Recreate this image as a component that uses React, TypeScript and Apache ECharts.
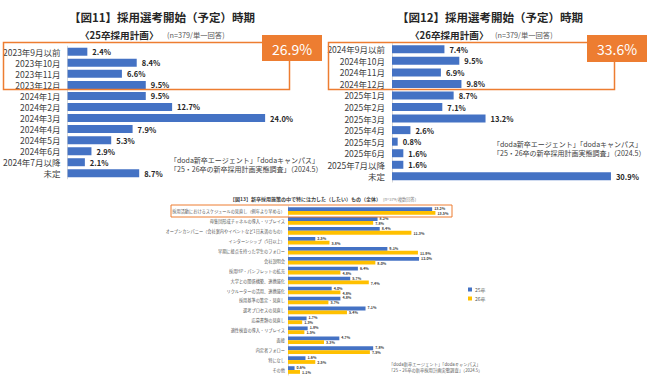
import React, { useEffect, useRef } from "react";
import * as echarts from "echarts";

const cats25 = ["2023年9月以前", "2023年10月", "2023年11月", "2023年12月", "2024年1月", "2024年2月", "2024年3月", "2024年4月", "2024年5月", "2024年6月", "2024年7月以降", "未定"];
const vals25 = [2.4, 8.4, 6.6, 9.5, 9.5, 12.7, 24.0, 7.9, 5.3, 2.9, 2.1, 8.7];
const cats26 = ["2024年9月以前", "2024年10月", "2024年11月", "2024年12月", "2025年1月", "2025年2月", "2025年3月", "2025年4月", "2025年5月", "2025年6月", "2025年7月以降", "未定"];
const vals26 = [7.4, 9.5, 6.9, 9.8, 8.7, 7.1, 13.2, 2.6, 0.8, 1.6, 1.6, 30.9];

const measures = [
  "採用活動におけるスケジュールの見直し（例年より早める）",
  "母集団形成チャネルの導入・リプレイス",
  "オープンカンパニー（会社案内やイベントなど1日未満のもの）",
  "インターンシップ（5日以上）",
  "早期に接点を持った学生のフォロー",
  "会社説明会",
  "採用HP・パンフレットの拡充",
  "大学との関係構築、連携強化",
  "リクルーターの活用、連携強化",
  "採用基準の策定・見直し",
  "選考プロセスの見直し",
  "応募書類の見直し",
  "適性検査の導入・リプレイス",
  "面接",
  "内定者フォロー",
  "特になし",
  "その他",
];
const measures25 = [13.2, 8.2, 8.4, 2.5, 9.1, 12.0, 6.4, 5.7, 4.0, 4.8, 7.1, 1.7, 1.8, 4.7, 7.8, 1.6, 0.6];
const measures26 = [13.5, 7.8, 11.3, 3.8, 11.9, 8.0, 4.8, 7.4, 4.8, 3.7, 5.4, 1.3, 1.5, 3.3, 7.5, 2.5, 1.1];

const sum25 = "26.9%";
const sum26 = "33.6%";

const FONT = "'Noto Sans CJK JP', 'Noto Sans', sans-serif";
const BLUE = "#4472C4";
const YELLOW = "#FFC000";
const ORANGE = "#ED7D31";

const pct = (p: any) => Number(p.value).toFixed(1) + "%";

export default function App() {
  const ref = useRef<HTMLDivElement>(null);
  useEffect(() => {
    if (!ref.current) return;
    const chart = echarts.init(ref.current, null, { renderer: "svg" });
    const txt = (text: string, x: number, y: number, size: number, opts: any = {}) => ({
      type: "text",
      x,
      y,
      style: {
        text,
        fontSize: size,
        fontFamily: FONT,
        fontWeight: opts.bold ? "bold" : "normal",
        fill: opts.color || "#262626",
        textAlign: opts.align || "left",
        textVerticalAlign: "middle",
      },
      z: 10,
    });
    const catAxisBase = (gridIndex: number, data: string[], size: number, margin: number, color: string) => ({
      type: "category",
      gridIndex,
      data,
      inverse: true,
      axisTick: { show: false },
      axisLine: { show: true, lineStyle: { color: "#d9d9d9", width: 1 } },
      axisLabel: { fontSize: size, fontFamily: FONT, color, margin, interval: 0 },
    });
    const valAxisBase = (gridIndex: number, max: number) => ({
      type: "value",
      gridIndex,
      min: 0,
      max,
      show: false,
      splitLine: { show: false },
    });
    const option: any = {
      animation: false,
      backgroundColor: "#ffffff",
      textStyle: { fontFamily: FONT },
      grid: [
        { left: 67, top: 46.2, width: 247.5, height: 132.6 },
        { left: 392, top: 43.5, width: 248, height: 138.6 },
        { left: 288, top: 206, width: 163.8, height: 169 },
      ],
      xAxis: [valAxisBase(0, 30), valAxisBase(1, 35), valAxisBase(2, 15)],
      yAxis: [
        catAxisBase(0, cats25, 8.5, 7, "#404040"),
        catAxisBase(1, cats26, 8.5, 7, "#404040"),
        catAxisBase(2, measures, 4.2, 3, "#595959"),
      ],
      legend: {
        data: ["25卒", "26卒"],
        orient: "vertical",
        left: 463,
        top: 282,
        itemWidth: 4,
        itemHeight: 4,
        itemGap: 4,
        icon: "rect",
        textStyle: { fontSize: 5, fontFamily: FONT, color: "#595959", padding: [0, 0, 0, -2] },
      },
      series: [
        {
          name: "top25",
          type: "bar",
          xAxisIndex: 0,
          yAxisIndex: 0,
          data: vals25,
          barWidth: 8,
          itemStyle: { color: BLUE },
          label: { show: true, position: "right", distance: 5, formatter: pct, fontSize: 7.5, fontWeight: "bold", color: "#262626", fontFamily: FONT },
        },
        {
          name: "top26",
          type: "bar",
          xAxisIndex: 1,
          yAxisIndex: 1,
          data: vals26,
          barWidth: 8,
          itemStyle: { color: BLUE },
          label: { show: true, position: "right", distance: 5, formatter: pct, fontSize: 7.5, fontWeight: "bold", color: "#262626", fontFamily: FONT },
        },
        {
          name: "25卒",
          type: "bar",
          xAxisIndex: 2,
          yAxisIndex: 2,
          data: measures25,
          barWidth: 3.8,
          barGap: "0%",
          itemStyle: { color: BLUE },
          label: { show: true, position: "right", distance: 2, offset: [0, -0.6], formatter: pct, fontSize: 3.6, fontWeight: "bold", color: "#404040", fontFamily: FONT },
        },
        {
          name: "26卒",
          type: "bar",
          xAxisIndex: 2,
          yAxisIndex: 2,
          data: measures26,
          barWidth: 3.8,
          barGap: "0%",
          itemStyle: { color: YELLOW },
          label: { show: true, position: "right", distance: 2, offset: [0, 0.6], formatter: pct, fontSize: 3.6, fontWeight: "bold", color: "#404040", fontFamily: FONT },
        },
      ],
      graphic: [
        txt("【図11】採用選考開始（予定）時期", 162, 17, 11.5, { bold: true, align: "center" }),
        txt("〈25卒採用計画〉", 80, 34.5, 9.6, { bold: true }),
        txt("(n=379/単一回答)", 167, 35, 7.3, { color: "#595959" }),
        txt("【図12】採用選考開始（予定）時期", 490, 17, 11.5, { bold: true, align: "center" }),
        txt("〈26卒採用計画〉", 410, 34.5, 9.6, { bold: true }),
        txt("(n=379/単一回答)", 495, 35, 7.3, { color: "#595959" }),
        { type: "rect", shape: { x: 3.5, y: 42.5, width: 286, height: 47 }, style: { fill: "none", stroke: ORANGE, lineWidth: 1.5 }, z: 5 },
        { type: "rect", shape: { x: 262, y: 35, width: 60, height: 26 }, style: { fill: ORANGE }, z: 6 },
        txt(sum25, 292, 48.5, 14, { color: "#ffffff", align: "center" }),
        { type: "rect", shape: { x: 328.5, y: 42.5, width: 286, height: 47 }, style: { fill: "none", stroke: ORANGE, lineWidth: 1.5 }, z: 5 },
        { type: "rect", shape: { x: 587, y: 35, width: 60, height: 27 }, style: { fill: ORANGE }, z: 6 },
        txt(sum26, 617, 48.5, 14, { color: "#ffffff", align: "center" }),
        txt("「doda新卒エージェント」「dodaキャンパス」", 170, 160, 7, { color: "#404040" }),
        txt("「25・26卒の新卒採用計画実態調査」（2024.5）", 170, 169, 7, { color: "#404040" }),
        txt("「doda新卒エージェント」「dodaキャンパス」", 493, 143.5, 7, { color: "#404040" }),
        txt("「25・26卒の新卒採用計画実態調査」（2024.5）", 493, 152.5, 7, { color: "#404040" }),
        txt("【図13】新卒採用施策の中で特に注力した（したい）もの（全体）", 230, 198.5, 5, { bold: true, color: "#404040" }),
        txt("(n=379/複数回答)", 383, 198.5, 4.2, { color: "#7f7f7f" }),
        { type: "rect", shape: { x: 171, y: 205, width: 281, height: 12 }, style: { fill: "none", stroke: ORANGE, lineWidth: 1 }, z: 5 },
        txt("「doda新卒エージェント」「dodaキャンパス」", 389, 363.5, 4.3, { color: "#595959" }),
        txt("「25・26卒の新卒採用計画実態調査」（2024.5）", 389, 369.5, 4.3, { color: "#595959" }),
      ],
    };
    chart.setOption(option);
    return () => chart.dispose();
  }, []);
  return <div ref={ref} style={{ position: "absolute", left: 0, top: 0, width: 650, height: 380 }} />;
}
